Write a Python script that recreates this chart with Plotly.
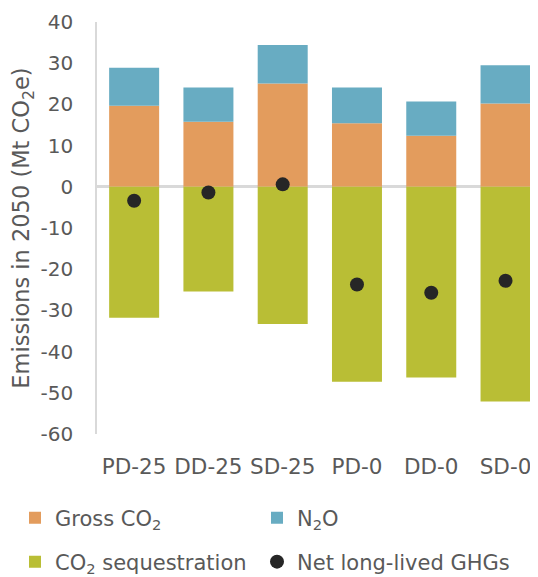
import plotly.graph_objects as go

scenarios = ["PD-25", "DD-25", "SD-25", "PD-0", "DD-0", "SD-0"]
gross_co2 = [19.7, 15.8, 25.1, 15.4, 12.4, 20.2]
n2o = [9.2, 8.3, 9.3, 8.7, 8.3, 9.3]
co2_seq = [-31.8, -25.4, -33.3, -47.3, -46.3, -52.1]
net_ghg = [-3.4, -1.4, 0.6, -23.7, -25.7, -22.8]
y_ticks = [40, 30, 20, 10, 0, -10, -20, -30, -40, -50, -60]
y_tick_labels = ["40", "30", "20", "10", "0", "-10", "-20", "-30", "-40", "-50", "-60"]

FONT = "DejaVu Sans"
GREY = "#595959"
FS = 20

# the page body adds an 8px offset; the figure is sized to fill the rest of the window
W, H = 530, 569
OFF = 8

fig = go.Figure()
fig.add_trace(go.Bar(x=scenarios, y=gross_co2, name="Gross CO<sub>2</sub>",
                     marker=dict(color="#E39C5D", line=dict(width=0)), legend="legend"))
fig.add_trace(go.Bar(x=scenarios, y=n2o, name="N<sub>2</sub>O",
                     marker=dict(color="#68ACC2", line=dict(width=0)), legend="legend2"))
fig.add_trace(go.Bar(x=scenarios, y=co2_seq, name="CO<sub>2</sub> sequestration",
                     marker=dict(color="#B9BE35", line=dict(width=0)), legend="legend3"))
fig.add_trace(go.Scatter(x=scenarios, y=net_ghg, mode="markers", name="Net long-lived GHGs",
                         marker=dict(color="#262626", size=14, line=dict(width=0)),
                         legend="legend4"))


def leg(px, py):
    return dict(orientation="h", xref="container", yref="container",
                x=(px - OFF) / W, y=1 - (py - OFF) / H,
                xanchor="left", yanchor="middle",
                font=dict(family=FONT, size=21, color=GREY),
                bgcolor="rgba(0,0,0,0)", itemclick=False, itemdoubleclick=False)


fig.update_layout(
    width=W, height=H,
    margin=dict(l=97 - OFF, r=0, t=22 - OFF, b=H - (434 - OFF), autoexpand=False),
    plot_bgcolor="white", paper_bgcolor="white",
    barmode="relative", bargap=0.327,
    showlegend=True,
    font=dict(family=FONT, size=FS, color=GREY),
    legend=leg(15, 518),
    legend2=leg(257, 518),
    legend3=leg(15, 562),
    legend4=leg(257, 562),
    xaxis=dict(type="category", range=[-0.5, 5.437], showgrid=False, showline=False,
               zeroline=False, ticks="", automargin=False,
               tickfont=dict(family=FONT, size=21.5, color=GREY),
               ticklabelstandoff=17),
    yaxis=dict(range=[-60, 40], tickvals=y_ticks, ticktext=y_tick_labels,
               showgrid=False, automargin=False,
               showline=True, linecolor="#D9D9D9", linewidth=1.5,
               zeroline=True, zerolinecolor="#D9D9D9", zerolinewidth=2.5,
               ticks="", ticklabelstandoff=18,
               tickfont=dict(family=FONT, size=FS, color=GREY),
               title=dict(text="Emissions in 2050 (Mt CO<sub>2</sub>e)", standoff=6,
                          font=dict(family=FONT, size=22.5, color=GREY))),
)

fig.write_html("out.html")
